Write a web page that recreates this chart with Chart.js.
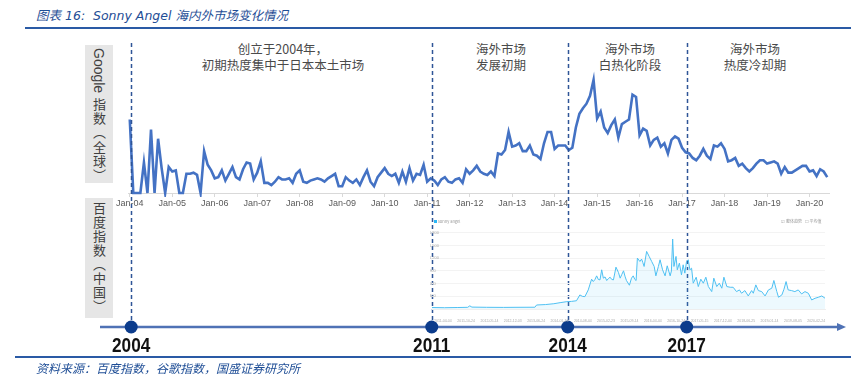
<!DOCTYPE html>
<html lang="zh">
<head>
  <meta charset="UTF-8" />
  <title>Sonny Angel 海内外市场变化情况</title>
  <script src="https://cdn.jsdelivr.net/npm/chart.js"></script>
  <style>
    body { margin: 0; background: #fff; }
    #wrap { position: relative; width: 851px; height: 378px; overflow: hidden; background: #fff; font-family: "Noto Sans CJK SC", sans-serif; }
    .abs { position: absolute; }
    .title { left: 36px; top: 5px; font: italic 12.5px "DejaVu Sans", "Noto Sans CJK SC"; color: #1f4e96; white-space: nowrap; }
    .rule { height: 2px; background: #2a5aa5; }
    .side { left: 85px; width: 28px; background: #e6e6e6; color: #404040; }
    .side .vt { position: absolute; left: 0; width: 28px; writing-mode: vertical-rl; text-orientation: mixed; font-size: 13px; line-height: 28px; white-space: nowrap; }
    .note { color: #4a4a4a; font-size: 12.5px; line-height: 16px; text-align: center; white-space: nowrap; transform: translateX(-50%); }
    .src { left: 36px; top: 359px; font: italic 12px "Noto Sans CJK SC"; color: #1f4e96; white-space: nowrap; }
    .tiny { font-size: 4px; color: #999; white-space: nowrap; line-height: 5px; }
  </style>
</head>
<body>
<div id="wrap">
  <div class="abs title">图表 16:&nbsp; Sonny Angel 海内外市场变化情况</div>
  <div class="abs rule" style="left:25px;top:27px;width:826px;"></div>

  <div class="abs side" style="top:45px;height:138px;">
    <span class="vt" style="top:3px;"><span style="font-family:'Liberation Sans';font-size:14px;">Google</span><span style="letter-spacing:1.3px;"> 指数（全球）</span></span>
  </div>
  <div class="abs side" style="top:198px;height:120px;">
    <span class="vt" style="top:4px;letter-spacing:1px;">百度指数（中国）</span>
  </div>

  <div class="abs note" style="left:283px;top:41px;">创立于2004年，<br>初期热度集中于日本本土市场</div>
  <div class="abs note" style="left:501px;top:41px;">海外市场<br>发展初期</div>
  <div class="abs note" style="left:630px;top:41px;">海外市场<br>白热化阶段</div>
  <div class="abs note" style="left:755px;top:41px;">海外市场<br>热度冷却期</div>

  <canvas id="googleChart" class="abs" width="851" height="378" style="left:0;top:0;"></canvas>
  <canvas id="baiduChart" class="abs" width="400" height="108" style="left:430px;top:214px;"></canvas>

  <div class="abs tiny" style="left:434px;top:219px;"><span style="display:inline-block;width:3px;height:3px;background:#29b6f6;margin-right:1px;"></span>sonny angel</div>
  <div class="abs tiny" style="left:781px;top:219px;">☑ 整体趋势&nbsp;&nbsp; ☐ 平均值</div>

  <div class="abs rule" style="left:15px;top:356px;width:836px;"></div>
  <div class="abs src">资料来源：百度指数，谷歌指数，国盛证券研究所</div>
</div>

<script>
  // Google 指数（全球），月度，Jan-04 起
  const googleValues = [
    65, 0, 0, 0, 27, 0, 56, 0, 48, 22, 0, 23,
    19, 20, 0, 0, 17, 17, 18, 16, 0, 37, 25, 20,
    13, 14, 20, 11, 17, 23, 14, 12, 21, 27, 26, 12,
    18, 28, 9, 9, 7, 10, 14, 12, 12, 13, 9, 17,
    20, 10, 9, 11, 12, 13, 12, 10, 13, 15, 17, 6,
    6, 14, 11, 9, 12, 7, 14, 20, 10, 6, 14, 18,
    22, 17, 15, 17, 9, 19, 10, 22, 11, 17, 16, 25,
    10, 13, 11, 7, 12, 14, 10, 9, 12, 13, 9, 21,
    17, 20, 24, 19, 17, 16, 19, 15, 35, 34, 38, 54,
    41, 42, 44, 37, 37, 42, 34, 33, 30, 44, 54, 54,
    39, 42, 42, 42, 38, 40, 58, 70, 75, 79, 86, 100,
    66, 72, 58, 53, 60, 65, 49, 61, 63, 65, 87, 85,
    51, 57, 55, 42, 47, 49, 41, 44, 35, 47, 50, 48,
    40, 36, 35, 31, 29, 33, 39, 33, 30, 42, 41, 44,
    39, 28, 29, 31, 24, 26, 22, 19, 22, 26, 29, 29,
    26, 27, 28, 26, 17, 23, 18, 18, 20, 22, 24, 24,
    19, 20, 15, 21, 19, 14
  ];
  const googleTickLabels = ['Jan-04', 'Jan-05', 'Jan-06', 'Jan-07', 'Jan-08', 'Jan-09', 'Jan-10', 'Jan-11',
    'Jan-12', 'Jan-13', 'Jan-14', 'Jan-15', 'Jan-16', 'Jan-17', 'Jan-18', 'Jan-19', 'Jan-20'];

  // 阶段分界（以月份序号计）
  const markerMonths = [0.4, 85.3, 123.7, 157.3];
  const markerYears = ['2004', '2011', '2014', '2017'];

  // 百度指数（中国）
  const baiduTimes = [
    2011.00, 2011.30, 2011.60, 2011.85, 2011.90, 2011.95, 2012.30, 2012.70, 2013.00, 2013.45,
    2013.49, 2013.70, 2013.90, 2014.05, 2014.21, 2014.32, 2014.44, 2014.52, 2014.58, 2014.64,
    2014.72, 2014.80, 2014.84, 2014.88, 2014.92, 2014.96, 2015.00, 2015.04, 2015.08, 2015.12,
    2015.16, 2015.20, 2015.24, 2015.28, 2015.32, 2015.38, 2015.44, 2015.48, 2015.52, 2015.56,
    2015.60, 2015.63, 2015.70, 2015.75, 2015.79, 2015.83, 2015.86, 2015.89, 2015.95, 2015.99,
    2016.02, 2016.05, 2016.11, 2016.17, 2016.23, 2016.29, 2016.33, 2016.39, 2016.43, 2016.49,
    2016.55, 2016.60, 2016.67, 2016.70, 2016.73, 2016.76, 2016.81, 2016.84, 2016.89, 2016.94,
    2016.98, 2017.02, 2017.06, 2017.10, 2017.14, 2017.18, 2017.22, 2017.29, 2017.34, 2017.40,
    2017.46, 2017.52, 2017.58, 2017.66, 2017.71, 2017.78, 2017.84, 2017.90, 2017.95, 2018.02,
    2018.10, 2018.17, 2018.25, 2018.32, 2018.37, 2018.45, 2018.53, 2018.61, 2018.65, 2018.71,
    2018.77, 2018.85, 2018.93, 2019.01, 2019.09, 2019.14, 2019.21, 2019.25, 2019.33, 2019.38,
    2019.43, 2019.48, 2019.56, 2019.64, 2019.72, 2019.80, 2019.88, 2019.96, 2020.04, 2020.12,
    2020.20, 2020.28, 2020.36
  ];
  const baiduValues = [
    35, 30, 35, 40, 75, 45, 40, 38, 40, 42,
    95, 105, 125, 150, 174, 180, 195, 333, 300, 293,
    452, 706, 650, 700, 785, 700, 690, 928, 730, 760,
    674, 720, 753, 700, 690, 991, 864, 730, 820, 904,
    760, 674, 563, 730, 785, 700, 674, 1205, 1126, 1182,
    1100, 1007, 1364, 1245, 1126, 1007, 785, 1007, 1166, 928,
    785, 1023, 785, 900, 1657, 1007, 1245, 928, 1086, 809,
    1047, 849, 1126, 1166, 928, 967, 611, 753, 531, 706,
    611, 753, 531, 412, 730, 531, 611, 492, 753, 531,
    515, 515, 412, 452, 373, 436, 309, 436, 373, 571,
    436, 412, 309, 452, 492, 675, 412, 278, 333, 468,
    650, 452, 436, 412, 452, 357, 412, 373, 214, 254,
    278, 309, 254
  ];
  const baiduTickLabels = ['2011-04-04', '2011-10-24', '2012-05-14', '2012-12-03', '2013-06-24', '2014-01-13',
    '2014-08-04', '2015-02-23', '2015-09-14', '2016-04-04', '2016-10-24', '2017-05-15', '2017-12-04',
    '2018-06-25', '2019-01-14', '2019-08-05', '2020-02-24'];
  const baiduYTicks = [300, 600, 900, 1200, 1500, 1800];

  function dateToYear(s) {
    const [y, m, d] = s.split('-').map(Number);
    return y + (m - 1) / 12 + (d - 1) / 365;
  }

  const phasePlugin = {
    id: 'phases',
    afterDatasetsDraw(chart) {
      const ctx = chart.ctx;
      const xs = chart.scales.x;
      const lineY = 327;
      ctx.save();
      // dashed dividers
      ctx.strokeStyle = '#2f5597';
      ctx.lineWidth = 1.5;
      ctx.setLineDash([4, 3]);
      markerMonths.forEach(m => {
        const px = Math.round(xs.getPixelForValue(m)) + 0.5;
        ctx.beginPath();
        ctx.moveTo(px, 43);
        ctx.lineTo(px, lineY);
        ctx.stroke();
      });
      ctx.setLineDash([]);
      // time axis with arrow
      ctx.strokeStyle = '#4f72b5';
      ctx.lineWidth = 2.5;
      ctx.beginPath();
      ctx.moveTo(100, lineY);
      ctx.lineTo(838, lineY);
      ctx.stroke();
      ctx.fillStyle = '#4f72b5';
      ctx.beginPath();
      ctx.moveTo(846, lineY);
      ctx.lineTo(837, lineY - 4);
      ctx.lineTo(837, lineY + 4);
      ctx.closePath();
      ctx.fill();
      // dots + years
      markerMonths.forEach((m, k) => {
        const px = xs.getPixelForValue(m);
        ctx.fillStyle = '#0c3c8c';
        ctx.beginPath();
        ctx.arc(px, lineY, 6.5, 0, Math.PI * 2);
        ctx.fill();
        ctx.save();
        ctx.translate(px, 346);
        ctx.scale(0.86, 1);
        ctx.fillStyle = '#111';
        ctx.font = "bold 20px 'Liberation Sans', Arial, sans-serif";
        ctx.textAlign = 'center';
        ctx.textBaseline = 'middle';
        ctx.fillText(markerYears[k], 0, 0);
        ctx.restore();
      });
      ctx.restore();
    }
  };

  new Chart(document.getElementById('googleChart'), {
    type: 'line',
    data: {
      datasets: [{
        data: googleValues.map((v, i) => ({ x: i, y: v })),
        borderColor: '#4472c4',
        borderWidth: 2.6,
        pointRadius: 0,
        tension: 0,
        clip: 4
      }]
    },
    options: {
      responsive: false,
      animation: false,
      layout: { padding: { left: 128, right: 22, top: 70, bottom: 0 } },
      plugins: { legend: { display: false }, tooltip: { enabled: false } },
      scales: {
        x: {
          type: 'linear',
          min: -0.5,
          max: googleValues.length - 0.5,
          afterFit: s => { s.height = 185; },
          afterBuildTicks: s => { s.ticks = googleTickLabels.map((_, k) => ({ value: k * 12 })); },
          grid: { drawOnChartArea: false, tickLength: 4, color: '#d9d9d9' },
          border: { color: '#d9d9d9' },
          ticks: {
            autoSkip: false,
            maxRotation: 0,
            padding: 1,
            color: '#595959',
            font: { family: 'Liberation Sans', size: 9 },
            callback: (v, i) => googleTickLabels[i]
          }
        },
        y: { display: false, min: 0, max: 108.8 }
      }
    },
    plugins: [phasePlugin]
  });

  new Chart(document.getElementById('baiduChart'), {
    type: 'line',
    data: {
      datasets: [{
        data: baiduTimes.map((t, i) => ({ x: t, y: baiduValues[i] })),
        borderColor: '#4ec0f2',
        borderWidth: 1,
        backgroundColor: 'rgba(79, 195, 247, 0.1)',
        fill: 'origin',
        pointRadius: 0,
        tension: 0
      }]
    },
    options: {
      responsive: false,
      animation: false,
      layout: { padding: { left: 2, right: 5, top: 14, bottom: 0 } },
      plugins: { legend: { display: false }, tooltip: { enabled: false } },
      scales: {
        x: {
          type: 'linear',
          min: 2011.0,
          max: 2020.357,
          afterFit: s => { s.height = 13; },
          afterBuildTicks: s => { s.ticks = baiduTickLabels.map(d => ({ value: dateToYear(d) })); },
          grid: { display: false },
          border: { color: '#eeeeee' },
          ticks: {
            autoSkip: false,
            maxRotation: 0,
            padding: 2,
            color: '#aaaaaa',
            font: { size: 3.5 },
            callback: (v, i) => baiduTickLabels[i]
          }
        },
        y: {
          min: 0,
          max: 1918,
          afterFit: s => { s.width = 0; },
          afterBuildTicks: s => { s.ticks = baiduYTicks.map(v => ({ value: v })); },
          grid: { color: '#f3f3f3', drawTicks: false },
          border: { display: false },
          ticks: { mirror: true, padding: -3, color: '#aaaaaa', font: { size: 4 } }
        }
      }
    }
  });
</script>
</body>
</html>
